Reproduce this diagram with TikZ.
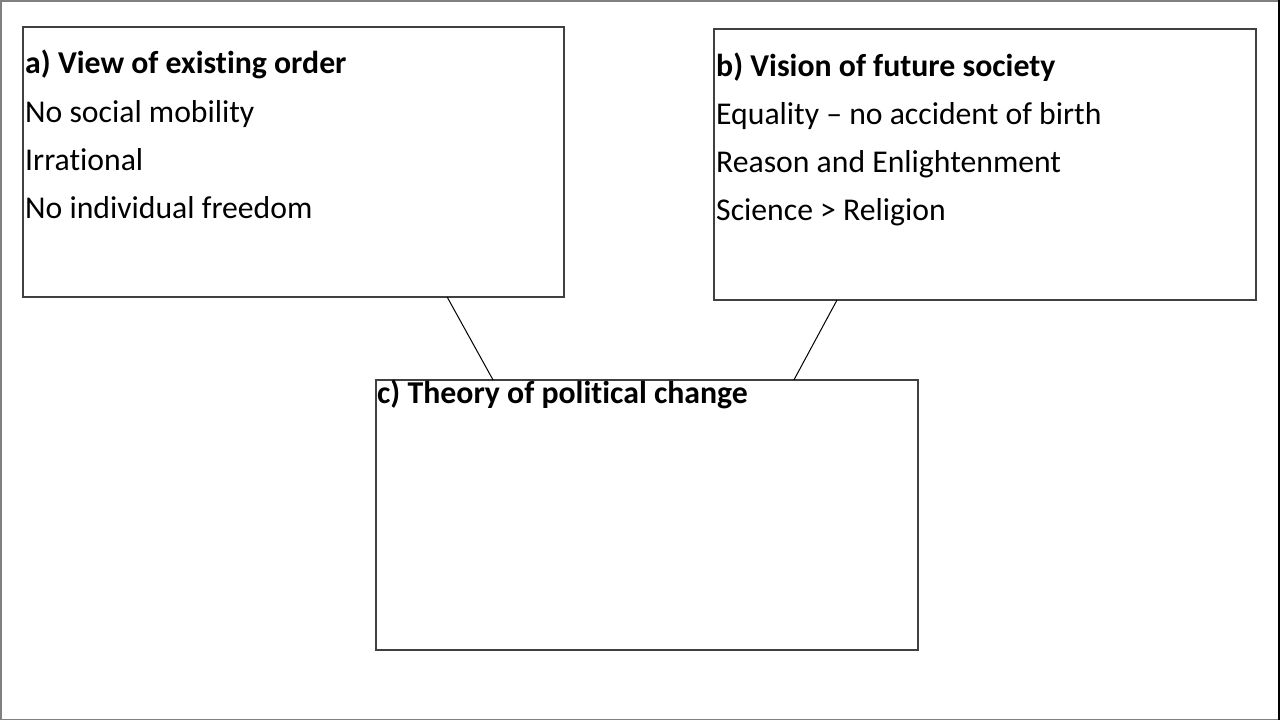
\documentclass[tikz,border=0pt]{standalone}
\usepackage{fontspec}
\setmainfont{Carlito}[Ligatures={NoCommon}]
\usetikzlibrary{calc}
\definecolor{boxline}{HTML}{404040}
\tikzset{
  panel/.style={draw=boxline, line width=1.3pt, rectangle, inner sep=0pt, outer sep=0pt, fill=white},
  heading/.style={anchor=base west, inner sep=0pt, font=\fontsize{31.8}{36}\selectfont\bfseries, text=black},
  item/.style={anchor=base west, inner sep=0pt, font=\fontsize{31.7}{36}\selectfont, text=black},
  link/.style={draw=black, line width=1pt}
}
\begin{document}
\begin{tikzpicture}[x=1pt,y=-1pt]
\useasboundingbox (0,0) rectangle (1280,720);
\fill[white] (0,0) rectangle (1280,720);
\draw[gray, line width=1.5pt] (0.75,0.75) rectangle (1279.25,719.25);
\draw[black, line width=2.5pt] (1278.75,0) -- (1278.75,720);
% boxes
\node[panel, minimum width=541pt, minimum height=270pt] (a) at (293.5,162) {};
\node[panel, minimum width=542pt, minimum height=271pt] (b) at (985,164.5) {};
\node[panel, minimum width=542pt, minimum height=270pt] (c) at (647,515) {};
% connectors
\draw[link] ($(a.south west)!0.784!(a.south east)$) -- ($(c.north west)!0.216!(c.north east)$);
\draw[link] ($(b.south west)!0.227!(b.south east)$) -- ($(c.north west)!0.771!(c.north east)$);
% texts a
\node[heading] (ah) at (25,73.5) {a) View of existing order};
\node[item] (a1) at (25,122) {No social mobility};
\node[item] (a2) at (25,170) {Irrational};
\node[item] (a3) at (25,218.5) {No individual freedom};
% texts b
\node[heading] (bh) at (716,76) {b) Vision of future society};
\node[item] (b1) at (716,124) {Equality – no accident of birth};
\node[item] (b2) at (716,172) {Reason and Enlightenment};
\node[item] (b3) at (716,220.5) {Science > Religion};
% text c
\node[heading] (ch) at (377,403.5) {c) Theory of political change};
\end{tikzpicture}
\end{document}
